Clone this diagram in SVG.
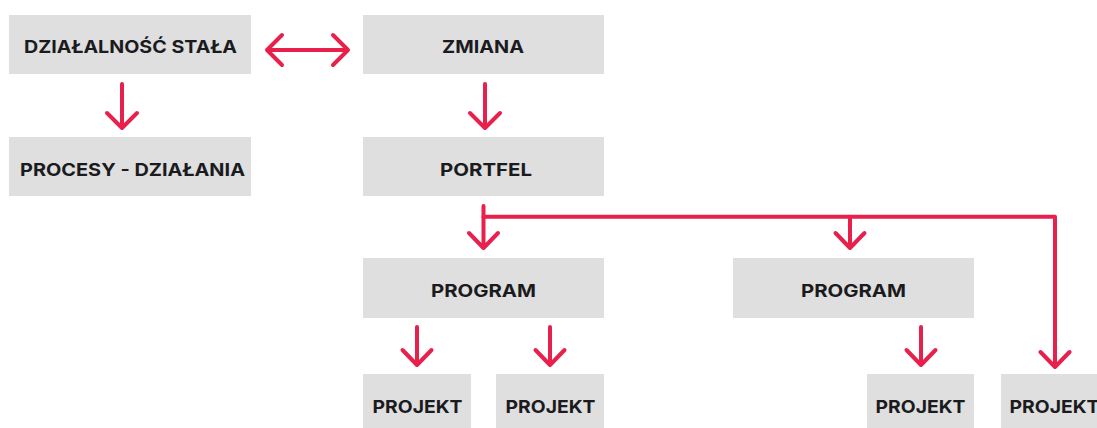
<svg xmlns="http://www.w3.org/2000/svg" width="1097" height="428" viewBox="0 0 1097 428">
<style>
.box{fill:#DEDFDE}
.lbl{font-family:"Inter","Liberation Sans",sans-serif;font-weight:700;font-size:17.5px;fill:#1B1B1F;text-anchor:middle}
.ln{fill:none;stroke:#E8204C;stroke-width:4;stroke-linecap:round;stroke-linejoin:round}
</style>
<rect width="1097" height="428" fill="#FFFFFF"/>
<g id="n-dzialalnosc"><rect class="box" x="9" y="15" width="242" height="59"/><text class="lbl" x="130.5" y="53" textLength="213" lengthAdjust="spacingAndGlyphs">DZIAŁALNOŚĆ STAŁA</text></g>
<g id="n-procesy"><rect class="box" x="9" y="137" width="242" height="59"/><text class="lbl" x="132.5" y="175.7" textLength="225" lengthAdjust="spacingAndGlyphs">PROCESY - DZIAŁANIA</text></g>
<g id="n-zmiana"><rect class="box" x="363" y="15" width="241" height="59"/><text class="lbl" x="483" y="53" textLength="82" lengthAdjust="spacingAndGlyphs">ZMIANA</text></g>
<g id="n-portfel"><rect class="box" x="363" y="137" width="241" height="59"/><text class="lbl" x="486" y="175.7" textLength="92" lengthAdjust="spacingAndGlyphs">PORTFEL</text></g>
<g id="n-program1"><rect class="box" x="363" y="258" width="241" height="60"/><text class="lbl" x="483.5" y="297" textLength="105" lengthAdjust="spacingAndGlyphs">PROGRAM</text></g>
<g id="n-program2"><rect class="box" x="733" y="258" width="241" height="60"/><text class="lbl" x="853.5" y="297" textLength="105" lengthAdjust="spacingAndGlyphs">PROGRAM</text></g>
<g id="n-projekt1"><rect class="box" x="363" y="374" width="108" height="54"/><text class="lbl" x="417.5" y="412.7" textLength="90" lengthAdjust="spacingAndGlyphs">PROJEKT</text></g>
<g id="n-projekt2"><rect class="box" x="496" y="374" width="108" height="54"/><text class="lbl" x="550.5" y="412.7" textLength="90" lengthAdjust="spacingAndGlyphs">PROJEKT</text></g>
<g id="n-projekt3"><rect class="box" x="867" y="374" width="107" height="54"/><text class="lbl" x="920.5" y="412.7" textLength="90" lengthAdjust="spacingAndGlyphs">PROJEKT</text></g>
<g id="n-projekt4"><rect class="box" x="1001" y="374" width="106" height="54"/><text class="lbl" x="1054.5" y="412.7" textLength="90" lengthAdjust="spacingAndGlyphs">PROJEKT</text></g>
<g id="connectors">
<path class="ln" d="M267 50H348M282 35L267 50L282 65M333 35L348 50L333 65"/>
<path class="ln" d="M122 84V128M107 113L122 128L137 113"/>
<path class="ln" d="M485 84V128M470 113L485 128L500 113"/>
<path class="ln" d="M483.5 206V248M469 233L483.5 248L498 233"/>
<path class="ln" d="M483.5 216.7H1055V367M1040.5 352L1055 367L1069.5 352"/>
<path class="ln" d="M850 216.7V248M835.5 233L850 248L864.5 233"/>
<path class="ln" d="M417 327V365M402.5 350L417 365L431.5 350"/>
<path class="ln" d="M550 327V365M535.5 350L550 365L564.5 350"/>
<path class="ln" d="M921 327V365M906.5 350L921 365L935.5 350"/>
</g>
</svg>
